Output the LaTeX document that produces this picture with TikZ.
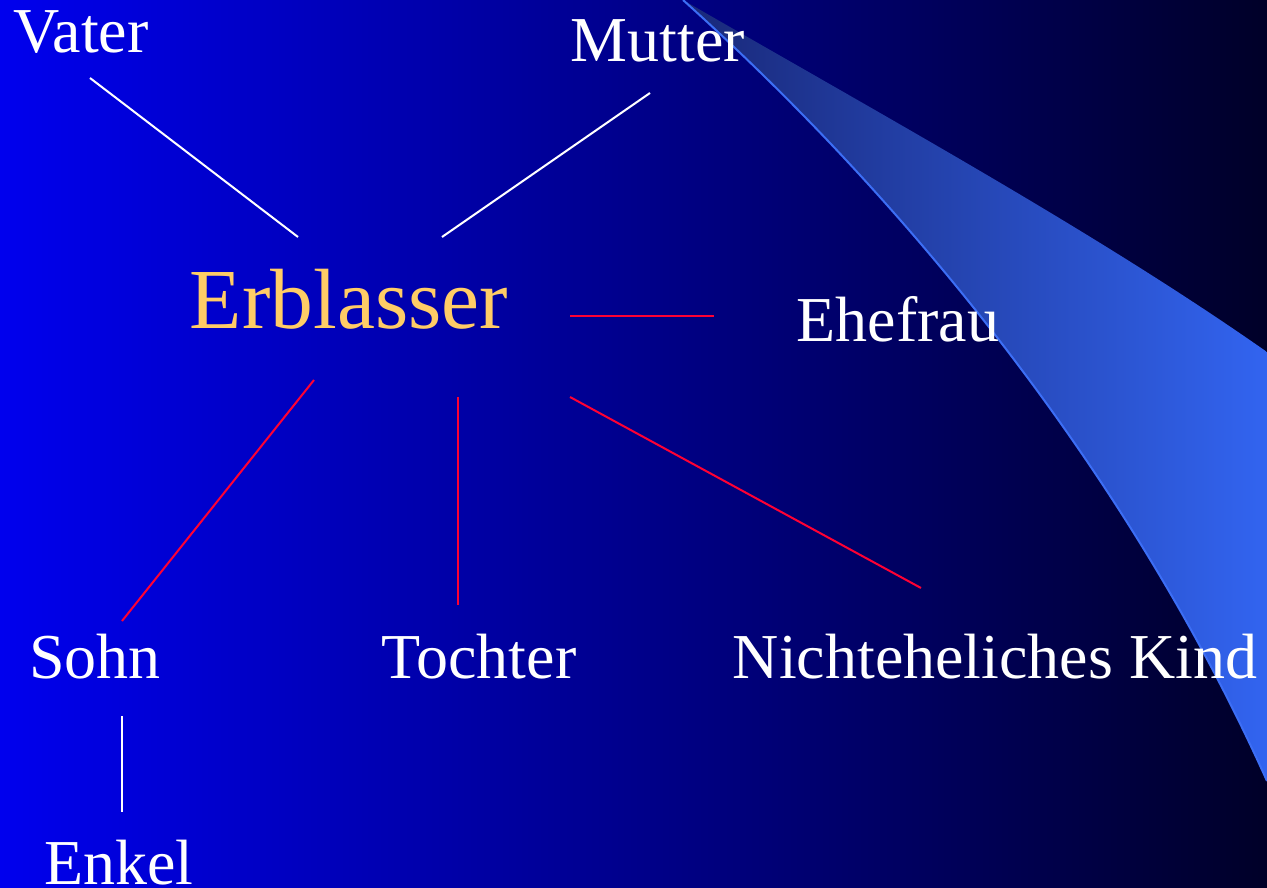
\documentclass[tikz,border=0pt]{standalone}
\usepackage{fontspec}
\setmainfont{Liberation Serif}
\definecolor{bgL}{RGB}{0,0,238}
\definecolor{bgR}{RGB}{0,0,40}
\definecolor{swL}{RGB}{25,40,120}
\definecolor{swR}{RGB}{50,100,240}
\definecolor{swEdge}{RGB}{60,110,245}
\definecolor{erbl}{RGB}{255,204,102}
\definecolor{redline}{RGB}{255,0,51}
\tikzset{
  lbl/.style={anchor=base, inner sep=0pt, text=white, font=\fontsize{64}{76}\selectfont},
  big/.style={anchor=base, inner sep=0pt, text=erbl, font=\fontsize{85.5}{100}\selectfont},
  wline/.style={draw=white, line width=2pt},
  rline/.style={draw=redline, line width=2pt}
}
\begin{document}
\begin{tikzpicture}[x=1pt,y=-1pt]
\useasboundingbox (0,0) rectangle (1267,888);
\shade[left color=bgL, right color=bgR] (0,0) rectangle (1267,888);
% swoosh
\shade[left color=swL, right color=swR]
  (683,0) .. controls (900,125) and (1100,235) .. (1267,352)
  -- (1267,781) .. controls (1150,520) and (950,240) .. (683,0) -- cycle;
\draw[swEdge, line width=2pt] (1267,781) .. controls (1150,520) and (950,240) .. (683,0);
% labels
\node[lbl] (vater) at (81,53) {Vater};
\node[lbl] (mutter) at (658,62) {Mutter};
\node[big] (erb) at (349,328) {Erblasser};
\node[lbl] (ehe) at (898,341) {Ehefrau};
\node[lbl] (sohn) at (95,678) {Sohn};
\node[lbl] (toch) at (479,678) {Tochter};
\node[lbl] (nek) at (995,678) {Nichteheliches Kind};
\node[lbl] (enkel) at (119,884) {Enkel};
% connector ends
\coordinate (v1) at (90,78);   \coordinate (v2) at (298,237);
\coordinate (m1) at (650,93);  \coordinate (m2) at (442,237);
\coordinate (e1) at (570,316); \coordinate (e2) at (714,316);
\coordinate (s1) at (314,380); \coordinate (s2) at (122,621);
\coordinate (t1) at (458,397); \coordinate (t2) at (458,605);
\coordinate (n1) at (570,397); \coordinate (n2) at (921,588);
\coordinate (k1) at (122,716); \coordinate (k2) at (122,812);
\draw[wline] (v1) -- (v2);
\draw[wline] (m1) -- (m2);
\draw[rline] (e1) -- (e2);
\draw[rline] (s1) -- (s2);
\draw[rline] (t1) -- (t2);
\draw[rline] (n1) -- (n2);
\draw[wline] (k1) -- (k2);
\end{tikzpicture}
\end{document}
